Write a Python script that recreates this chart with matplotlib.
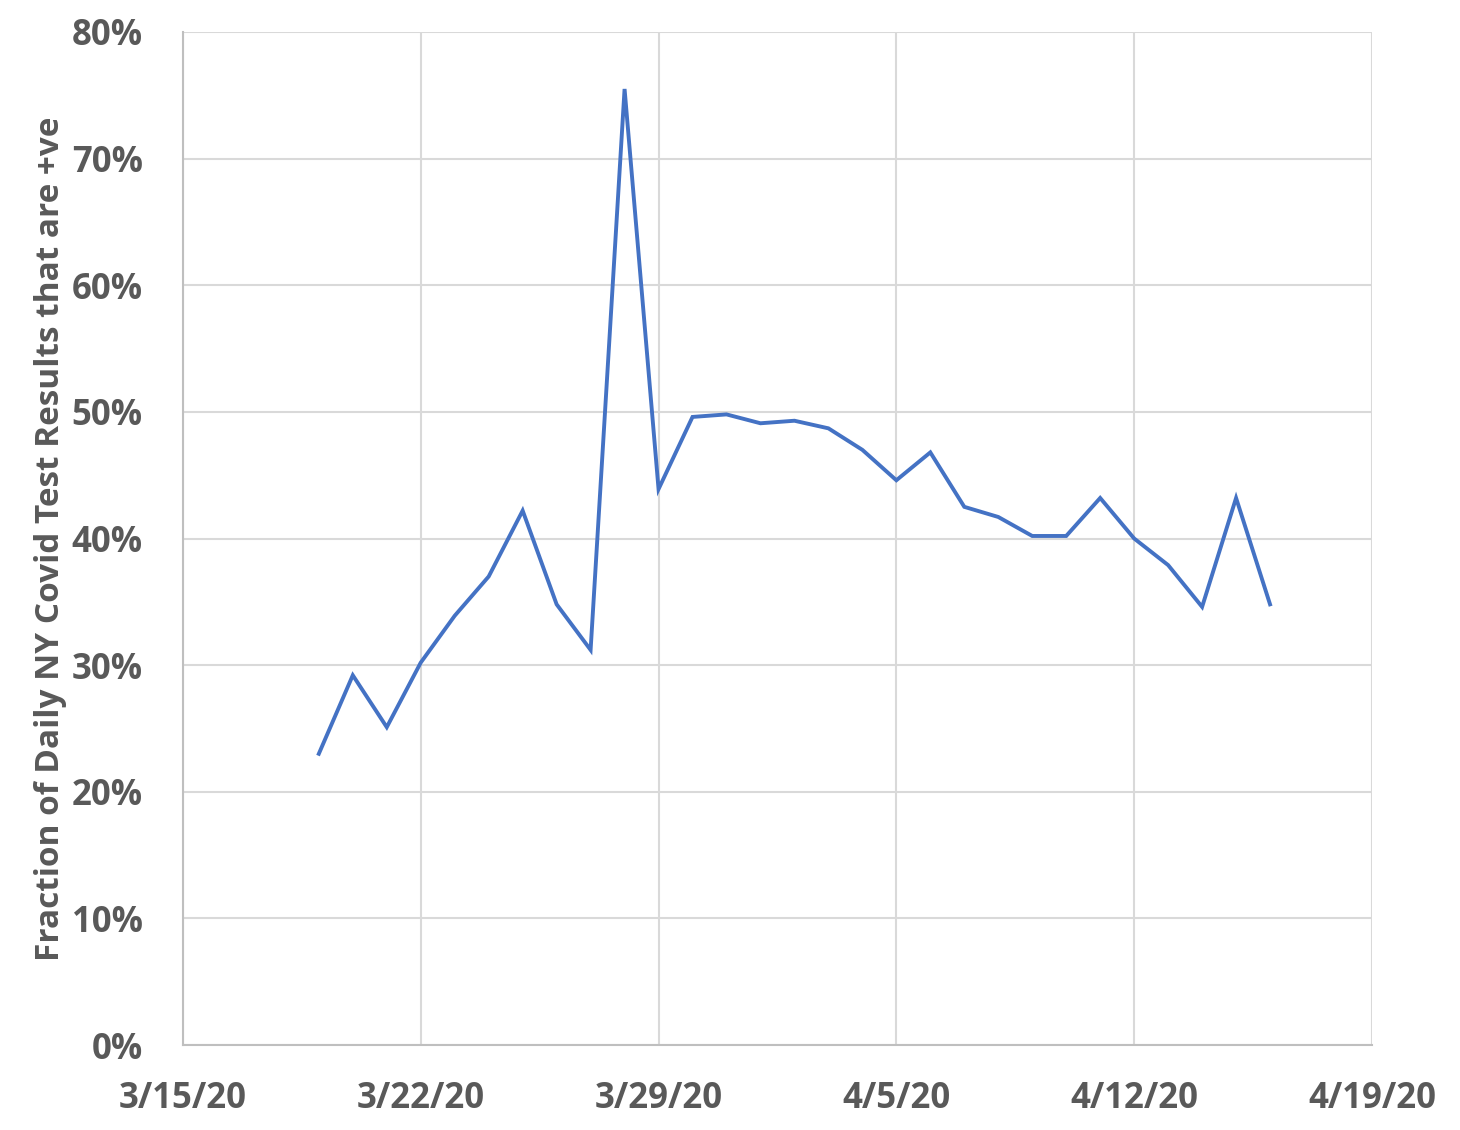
import datetime as dt
import matplotlib
matplotlib.use("Agg")
import matplotlib.pyplot as plt
import matplotlib.dates as mdates
from matplotlib.ticker import FuncFormatter

# daily fraction of positive tests, NY (percent)
dates = ["2020-03-19", "2020-03-20", "2020-03-21", "2020-03-22", "2020-03-23",
         "2020-03-24", "2020-03-25", "2020-03-26", "2020-03-27", "2020-03-28",
         "2020-03-29", "2020-03-30", "2020-03-31", "2020-04-01", "2020-04-02",
         "2020-04-03", "2020-04-04", "2020-04-05", "2020-04-06", "2020-04-07",
         "2020-04-08", "2020-04-09", "2020-04-10", "2020-04-11", "2020-04-12",
         "2020-04-13", "2020-04-14", "2020-04-15", "2020-04-16"]
positive_pct = [23.0, 29.2, 25.1, 30.2, 33.9, 37.0, 42.2, 34.8, 31.2, 75.5,
                43.9, 49.6, 49.8, 49.1, 49.3, 48.7, 47.0, 44.6, 46.8, 42.5,
                41.7, 40.2, 40.2, 43.2, 40.0, 37.9, 34.6, 43.2, 34.8]
tick_dates = ["2020-03-15", "2020-03-22", "2020-03-29", "2020-04-05",
              "2020-04-12", "2020-04-19"]

x = [dt.datetime.strptime(d, "%Y-%m-%d") for d in dates]
xt = [dt.datetime.strptime(d, "%Y-%m-%d") for d in tick_dates]

text_col = "#595959"
plt.rcParams["font.family"] = ["Open Sans", "DejaVu Sans"]
plt.rcParams["font.weight"] = "bold"

fig = plt.figure(figsize=(14.6, 11.3), dpi=100)
ax = fig.add_axes([0.1253, 0.0752, 0.8144, 0.8965])

ax.plot(x, positive_pct, color="#4472C4", lw=2.8, solid_joinstyle="miter")

ax.set_xlim(xt[0], xt[-1])
ax.set_ylim(0, 80)
ax.set_xticks(xt)
ax.xaxis.set_major_formatter(FuncFormatter(
    lambda v, p: "{d.month}/{d.day}/{y}".format(d=mdates.num2date(v), y=mdates.num2date(v).strftime("%y"))))
ax.set_yticks(range(0, 81, 10))
ax.yaxis.set_major_formatter(FuncFormatter(lambda v, p: "%d%%" % v))

ax.grid(True, color="#d9d9d9", lw=1.5)
ax.set_axisbelow(True)
for s in ["top", "right"]:
    ax.spines[s].set_visible(False)
for s in ["left", "bottom"]:
    ax.spines[s].set_color("#bfbfbf")
    ax.spines[s].set_linewidth(1.5)
ax.tick_params(length=0, labelsize=25, labelcolor=text_col)
ax.tick_params(axis="y", pad=29)
ax.tick_params(axis="x", pad=26)
for lab in ax.get_xticklabels() + ax.get_yticklabels():
    lab.set_fontweight("bold")

ax.set_ylabel("Fraction of Daily NY Covid Test Results that are +ve",
              fontsize=24, color=text_col, fontweight="bold", labelpad=3)

fig.savefig("out.png", dpi=100)
